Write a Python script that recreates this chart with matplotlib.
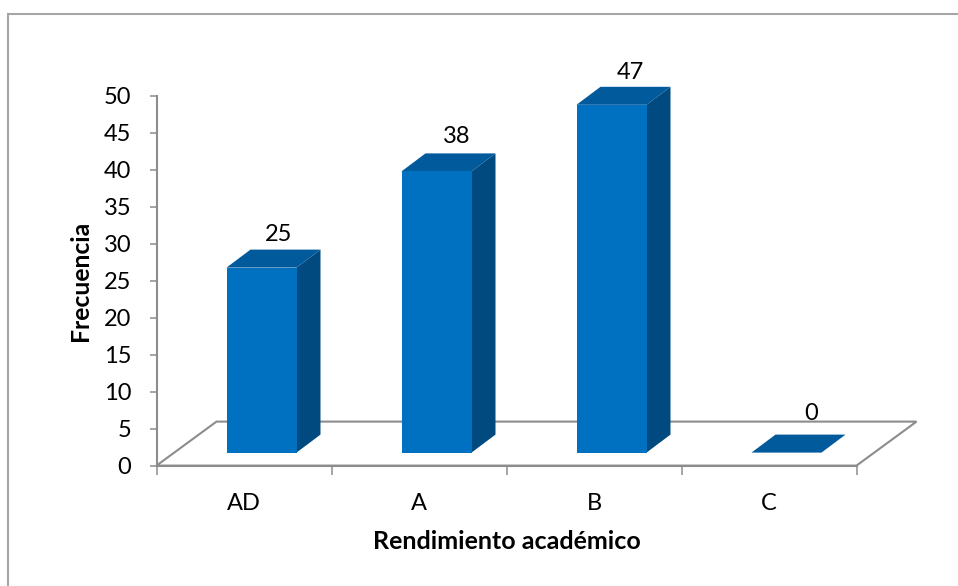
import matplotlib
matplotlib.use("Agg")
import matplotlib.pyplot as plt
from matplotlib.patches import Polygon
from matplotlib.lines import Line2D

categorias = ["AD", "A", "B", "C"]
frecuencia = [25, 38, 47, 0]
ticks_y = [0, 5, 10, 15, 20, 25, 30, 35, 40, 45, 50]

W, H = 958, 586
plt.rcParams["font.family"] = ["Lato", "DejaVu Sans"]

fig = plt.figure(figsize=(W / 100, H / 100), dpi=100)
# el eje ocupa x 156-856, y 95-465 en pixeles
ax = fig.add_axes([156.5 / W, 1 - 465.6 / H, 700 / W, 370 / H])
ax.set_xlim(0, 4)
ax.set_ylim(0, 50)
ax.patch.set_visible(False)

GRIS = "#8c8c8c"
FRENTE = "#0070c0"
ARRIBA = "#005a9c"
LADO = "#004a80"

# marco del grafico: solo arriba e izquierda llegan a verse
fig.add_artist(Line2D([8 / W, 1], [1 - 14 / H, 1 - 14 / H], transform=fig.transFigure,
                      color="#a6a6a6", linewidth=1.5))
fig.add_artist(Line2D([8 / W, 8 / W], [0, 1 - 14 / H], transform=fig.transFigure,
                      color="#a6a6a6", linewidth=1.5))

# piso en perspectiva
prof_x = 60 / 175
prof_y = 44 / 7.4
ax.add_patch(Polygon([(0, 0), (prof_x, prof_y), (4 + prof_x, prof_y), (4, 0)], closed=True,
                     fill=False, edgecolor=GRIS, linewidth=1.5, clip_on=False, zorder=1))

for s in ["top", "right"]:
    ax.spines[s].set_visible(False)
for s in ["left", "bottom"]:
    ax.spines[s].set_color(GRIS)
    ax.spines[s].set_linewidth(1.5)
    ax.spines[s].set_zorder(1)

ax.set_yticks(ticks_y)
ax.set_xticks([0, 1, 2, 3, 4])
ax.set_xticklabels([])
ax.tick_params(axis="y", length=5, width=1.1, color=GRIS, labelsize=17, pad=13)
ax.tick_params(axis="x", length=6.5, width=1.1, color=GRIS)

# barras 3d
base_x = 17.5 / 175
base_y = 13 / 7.4
ancho = 70 / 175
dx = 24 / 175
dy = 18 / 7.4
for i, v in enumerate(frecuencia):
    x0 = i + 0.5 - ancho / 2 + base_x
    x1 = x0 + ancho
    y0 = base_y
    y1 = base_y + v
    ax.add_patch(Polygon([(x1, y0), (x1 + dx, y0 + dy), (x1 + dx, y1 + dy), (x1, y1)],
                         facecolor=LADO, edgecolor="none", clip_on=False, zorder=3))
    ax.add_patch(Polygon([(x0, y1), (x0 + dx, y1 + dy), (x1 + dx, y1 + dy), (x1, y1)],
                         facecolor=ARRIBA, edgecolor="none", clip_on=False, zorder=3))
    ax.add_patch(plt.Rectangle((x0, y0), ancho, v, facecolor=FRENTE, edgecolor="none",
                               clip_on=False, zorder=3))

# etiquetas de valor
desp = [(0.2, 5.3), (0.214, 5.6), (0.208, 5.3), (0.243, 6.1)]
for i, v in enumerate(frecuencia):
    ax.text(i + 0.5 + desp[i][0], v + desp[i][1], str(v), ha="center", va="baseline",
            fontsize=17, color="black", zorder=4, clip_on=False)

for i, c in enumerate(categorias):
    ax.text(i + 0.5, -6.0, c, ha="center", va="baseline", fontsize=17, color="black")

fig.text(507 / W, 1 - 549 / H, "Rendimiento académico", ha="center", va="baseline",
         fontsize=18, fontweight="bold")
fig.text(81 / W, 1 - 281 / H, "Frecuencia", ha="center", va="center", rotation=90,
         fontsize=17.8, fontweight="bold")

fig.savefig("out.png", dpi=100, facecolor="white")
